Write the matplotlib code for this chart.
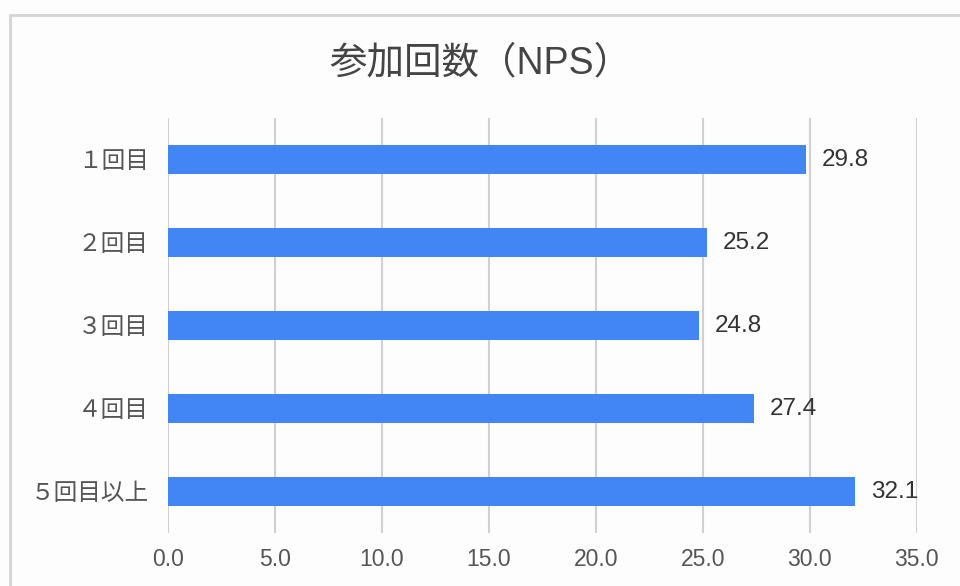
import matplotlib.pyplot as plt
from matplotlib.patches import Rectangle

plt.rcParams['font.family'] = ['Liberation Sans', 'Noto Sans CJK JP', 'DejaVu Sans']

categories = ["１回目", "２回目", "３回目", "４回目", "５回目以上"]
values = [29.8, 25.2, 24.8, 27.4, 32.1]
xticks = [0, 5, 10, 15, 20, 25, 30, 35]

fig = plt.figure(figsize=(9.6, 5.86), dpi=100)
fig.set_facecolor('#fdfdfd')
ax = fig.add_axes([0.175, 0.0904, 0.78, 0.7082])
ax.set_facecolor('#fdfdfd')

ypos = list(range(len(categories)))
ax.barh(ypos, values, height=0.34, color='#4285F4', zorder=3)
for y, v in zip(ypos, values):
    ax.text(v + 0.75, y, f"{v:.1f}", va='center', ha='left', fontsize=17.5, color='#333333')

ax.set_yticks(ypos)
ax.set_yticklabels(categories, fontsize=17, color='#555555')
ax.set_ylim(len(categories) - 0.5, -0.5)
ax.set_xlim(0, 35)
ax.set_xticks(xticks)
ax.set_xticklabels([f"{t:.1f}" for t in xticks], fontsize=16.5, color='#555555')
ax.tick_params(length=0)
ax.tick_params(axis='x', pad=11)
ax.tick_params(axis='y', pad=14)
ax.grid(axis='x', color='#d0d0d0', linewidth=1.5, zorder=0)
for s in ax.spines.values():
    s.set_visible(False)

fig.text(0.5, 0.892, "参加回数（NPS）", ha='center', va='center', fontsize=27, color='#444444')

# frame around the chart
fig.patches.append(Rectangle((10 / 960, -0.1), 1.1, 1.1 - 15 / 586, transform=fig.transFigure,
                             fill=False, edgecolor='#d4d4d4', linewidth=2))

fig.savefig("out.png", dpi=100, facecolor=fig.get_facecolor())
